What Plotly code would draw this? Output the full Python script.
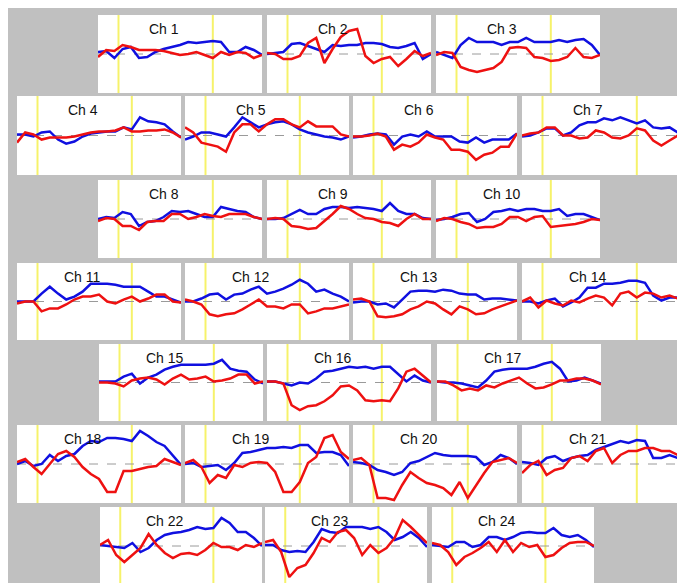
import plotly.graph_objects as go

# ---------------- data (signal deviation) ----------------
time_s = [-5, -3, -1, 1, 3, 5, 7, 9, 11, 13, 15, 17, 19, 21, 23, 25, 27, 29, 31, 33, 35]
stim_on = 0
stim_off = 23
channel_names = ["Ch %d" % i for i in range(1, 25)]

ch1_blue = [2, 3, -4, 5, 7, -4, -3, 2, 5, 7, 9, 12, 11, 12, 13, 12, 2, 2, 7, 4, -1]
ch1_red = [-3, 4, 3, 9, 7, 4, 4, 4, 3, 1, -1, 0, 2, -1, -4, 2, -1, 2, 1, -4, -1]
ch2_blue = [0, 1, 2, 10, 11, 8, 5, 2, 9, 8, 9, 9, 11, 11, 10, 7, 6, 8, 11, -5, 0]
ch2_red = [1, 0, -5, -5, -2, 11, 16, -9, 5, 17, 23, 25, -2, -9, -5, -3, -12, -5, 3, -2, 1]
ch3_blue = [2, -1, -4, 9, 16, 12, 12, 12, 9, 12, 12, 16, 12, 12, 12, 14, 12, 14, 15, 9, -1]
ch3_red = [-1, 2, 1, -13, -16, -18, -16, -14, -8, 6, 7, 6, -3, -4, -7, -6, -3, 6, -3, -4, -1]
ch4_blue = [1, 1, -1, 3, 4, -4, -8, -6, -1, 2, 3, 4, 4, 8, 6, 18, 14, 13, 11, 4, -2]
ch4_red = [-7, 3, 1, -4, -2, -2, -2, -1, 1, 3, 4, 4, 5, 8, 4, 4, 5, 5, 6, 3, -2]
ch5_blue = [-4, -1, 3, 3, 1, -1, 8, 18, 13, 8, 11, 13, 14, 11, 6, 3, 1, -1, -2, -4, -1]
ch5_red = [8, 3, -7, -9, -11, -16, 3, 11, 11, 4, 11, 16, 16, 11, 8, 14, 9, 9, 9, 1, -1]
ch6_blue = [-2, -1, 1, 2, 1, -9, -1, 1, -1, 4, -1, -1, -1, -6, -7, -2, -7, -4, -4, -4, 2]
ch6_red = [-1, -1, 0, 2, -1, -14, -9, -11, -7, 1, -2, -4, -14, -14, -16, -24, -19, -17, -11, -11, 2]
ch7_blue = [-1, 0, 3, 7, 7, 0, 3, 10, 13, 13, 17, 15, 18, 15, 12, 15, 8, 7, 8, 3, 0]
ch7_red = [0, 2, 3, 8, 8, 0, 0, -3, -2, 5, 3, -2, -3, 0, 7, 5, -5, -10, -5, 0, 0]
ch8_blue = [0, 2, 1, 7, 5, -7, -3, -2, 2, 8, 7, 8, 5, 2, 2, 12, 10, 8, 7, 2, 0]
ch8_red = [-2, 1, 0, -7, -7, -11, -3, -2, -2, 5, 5, 0, 2, 5, 3, 2, 5, 5, 5, 2, 0]
ch9_blue = [0, 0, 1, 5, 9, 5, 5, 10, 12, 12, 11, 12, 11, 10, 8, 16, 8, 5, 5, 1, 0]
ch9_red = [0, 1, 0, -7, -8, -10, -9, -2, 5, 13, 10, 5, 1, 0, -3, -4, -7, 0, 5, 0, 0]
ch10_blue = [-1, 0, 2, 5, 6, -3, 0, 7, 8, 10, 8, 10, 10, 8, 8, 10, 3, 5, 5, 2, -1]
ch10_red = [-2, 1, 0, -3, -5, -9, -8, -8, -5, 2, 2, -2, 2, 3, -8, -7, -6, -5, -3, 0, -1]
ch11_blue = [0, 0, 0, 8, 15, 8, 2, 5, 10, 18, 18, 18, 17, 15, 15, 15, 10, 5, 5, 2, -1]
ch11_red = [-2, 0, 0, -10, -7, -7, -3, 2, 5, 5, 7, 0, -2, 2, 5, 0, 3, 7, 7, 0, -1]
ch12_blue = [0, 0, 3, 7, 8, 2, 7, 8, 12, 15, 8, 10, 13, 17, 22, 18, 10, 12, 8, 5, 0]
ch12_red = [2, 0, -3, -13, -15, -13, -12, -8, -3, 2, -5, -5, -7, -3, -3, -12, -10, -7, -7, -5, -3]
ch13_blue = [-1, 0, 0, -3, -2, -6, 2, 10, 11, 11, 10, 12, 11, 8, 7, 7, 2, 3, 3, 2, 1]
ch13_red = [2, 3, 0, -15, -16, -15, -13, -8, -5, 0, -2, -8, -13, -5, -8, -13, -12, -8, -5, -2, 1]
ch14_blue = [0, 0, -2, 1, 3, -5, -1, 4, 14, 14, 18, 18, 19, 21, 21, 19, 6, 1, 4, 4, -1]
ch14_red = [0, 4, -6, 1, -2, -4, 1, -1, 3, 6, 4, -4, 8, 10, 4, 9, 8, 4, 6, 3, -1]
ch15_blue = [1, 1, 1, 6, 9, -1, 5, 8, 13, 16, 18, 18, 18, 18, 19, 23, 14, 12, 11, 3, -1]
ch15_red = [0, 0, -1, -4, 2, 4, 5, 3, -2, 4, 8, 3, 4, 6, 1, 2, 4, 8, 8, -1, 1]
ch16_blue = [1, 1, -1, -3, 0, -1, 4, 11, 12, 14, 16, 15, 16, 14, 16, 16, 9, 1, 7, 2, 0]
ch16_red = [1, 1, -1, -23, -28, -24, -23, -19, -13, -4, -3, -8, -18, -19, -18, -19, -6, 11, 14, 7, 0]
ch17_blue = [1, 0, 0, -1, -3, -5, 2, 11, 13, 14, 14, 14, 16, 19, 21, 14, 1, 2, 5, 2, -1]
ch17_red = [1, 1, -3, -8, -6, -8, -3, -5, -1, 2, 5, -1, -6, -5, -2, 2, 2, 4, 4, 2, -2]
ch18_blue = [0, 3, -2, 0, 9, 3, 8, 10, 18, 23, 22, 26, 26, 25, 23, 33, 28, 22, 18, 8, -1]
ch18_red = [2, 5, -3, -10, 0, 10, 13, 7, -3, -10, -15, -28, -28, -7, -7, -5, -3, -2, 5, 2, -1]
ch19_blue = [0, 1, -3, -2, -1, -6, 1, 11, 12, 14, 16, 16, 17, 16, 19, 19, 11, 12, 12, 9, -2]
ch19_red = [1, 4, -3, -19, -11, -14, -1, -3, 1, 2, 1, -8, -28, -28, -18, 1, 7, 26, 29, 12, 5]
ch20_blue = [2, 1, -1, -6, -8, -11, -8, 1, 3, 7, 11, 9, 8, 8, 8, 7, -1, 2, 9, 6, 0]
ch20_red = [4, 6, -1, -34, -34, -36, -21, -8, -14, -19, -21, -24, -31, -18, -34, -21, -9, 2, 4, 6, 1]
ch21_blue = [2, 1, -1, 6, 8, 3, 6, 8, 9, 14, 17, 20, 23, 21, 24, 23, 6, 6, 9, 6, -1]
ch21_red = [-9, -1, 3, -11, -6, -4, 6, 8, 3, 13, 16, 1, 9, 13, 13, 16, 16, 13, 13, 9, -1]
ch22_blue = [1, 0, -1, -2, 3, -6, -2, 6, 11, 13, 14, 16, 19, 17, 18, 28, 23, 14, 14, 8, 0]
ch22_red = [1, 6, -9, -16, -9, -2, 12, 1, -7, -12, -8, -7, -9, -4, 3, -1, -1, -4, 1, -1, 3]
ch23_blue = [1, 1, -4, -6, -5, -6, 4, 17, 14, 13, 19, 19, 19, 17, 19, 14, 6, 9, 14, 8, -1]
ch23_red = [4, 6, -6, -31, -22, -19, -7, 8, 4, 14, 16, 8, -9, 1, -7, -2, 8, 26, 19, 11, 3]
ch24_blue = [1, 0, -1, 4, 4, -1, 1, 9, 9, 6, 9, 13, 14, 13, 13, 18, 11, 9, 11, 6, -1]
ch24_red = [3, 1, -6, -19, -11, -7, -2, 4, -6, 6, -6, 3, -1, 1, -11, -9, -2, 3, 4, 4, 0]

blue_series = [ch1_blue, ch2_blue, ch3_blue, ch4_blue, ch5_blue, ch6_blue, ch7_blue, ch8_blue,
               ch9_blue, ch10_blue, ch11_blue, ch12_blue, ch13_blue, ch14_blue, ch15_blue, ch16_blue,
               ch17_blue, ch18_blue, ch19_blue, ch20_blue, ch21_blue, ch22_blue, ch23_blue, ch24_blue]
red_series = [ch1_red, ch2_red, ch3_red, ch4_red, ch5_red, ch6_red, ch7_red, ch8_red,
              ch9_red, ch10_red, ch11_red, ch12_red, ch13_red, ch14_red, ch15_red, ch16_red,
              ch17_red, ch18_red, ch19_red, ch20_red, ch21_red, ch22_red, ch23_red, ch24_red]

# ---------------- layout (pixels) ----------------
W, H = 685, 583
row_top = [7, 88, 172, 255, 336, 417, 499]
row_bot = [85, 167, 250, 332, 413, 495, 577]
row_lefts = [
    [90, 259, 428],
    [9, 177, 345, 514],
    [90, 259, 428],
    [9, 177, 345, 514],
    [91, 259, 429],
    [9, 177, 345, 514],
    [92, 257, 424],
]
row_width = [164, 164, 164, 164, 164, 164, 162]

BLUE = "#1010e0"
RED = "#ee1111"
YELLOW = "#f6f26a"

fig = go.Figure()
shapes = []
annotations = []
k = 0
for r in range(7):
    for x0 in row_lefts[r]:
        k += 1
        sfx = "" if k == 1 else str(k)
        w = row_width[r]
        xd = [x0 / W, (x0 + w) / W]
        yd = [1 - row_bot[r] / H, 1 - row_top[r] / H]
        fig.layout["xaxis" + sfx] = dict(domain=xd, range=[time_s[0], time_s[-1]], visible=False,
                                         fixedrange=True, anchor="y" + sfx)
        fig.layout["yaxis" + sfx] = dict(domain=yd, range=[-39, 39], visible=False,
                                         fixedrange=True, anchor="x" + sfx)
        for xv in (stim_on, stim_off):
            shapes.append(dict(type="line", xref="x" + sfx, yref="y" + sfx + " domain",
                               x0=xv, x1=xv, y0=0, y1=1, layer="below",
                               line=dict(color=YELLOW, width=2)))
        shapes.append(dict(type="line", xref="x" + sfx + " domain", yref="y" + sfx,
                           x0=0, x1=1, y0=0, y1=0, layer="below",
                           line=dict(color="#9a9a9a", width=1, dash="dash")))
        fig.add_trace(go.Scatter(x=time_s, y=blue_series[k - 1], mode="lines",
                                 line=dict(color=BLUE, width=2.5),
                                 xaxis="x" + sfx, yaxis="y" + sfx, showlegend=False,
                                 hoverinfo="skip"))
        fig.add_trace(go.Scatter(x=time_s, y=red_series[k - 1], mode="lines",
                                 line=dict(color=RED, width=2.5),
                                 xaxis="x" + sfx, yaxis="y" + sfx, showlegend=False,
                                 hoverinfo="skip"))
        annotations.append(dict(text=channel_names[k - 1], xref="paper", yref="paper",
                                x=(x0 + 0.40 * w) / W, y=1 - (row_top[r] + 14) / H,
                                xanchor="center", yanchor="middle", showarrow=False,
                                font=dict(family="Liberation Sans, Arial, sans-serif",
                                          size=14, color="#111111")))

fig.update_layout(width=W, height=H, margin=dict(l=0, r=0, t=0, b=0),
                  paper_bgcolor="#c0c0c0", plot_bgcolor="#ffffff",
                  shapes=shapes, annotations=annotations, showlegend=False)
fig.write_html("out.html", config={"displayModeBar": False})
